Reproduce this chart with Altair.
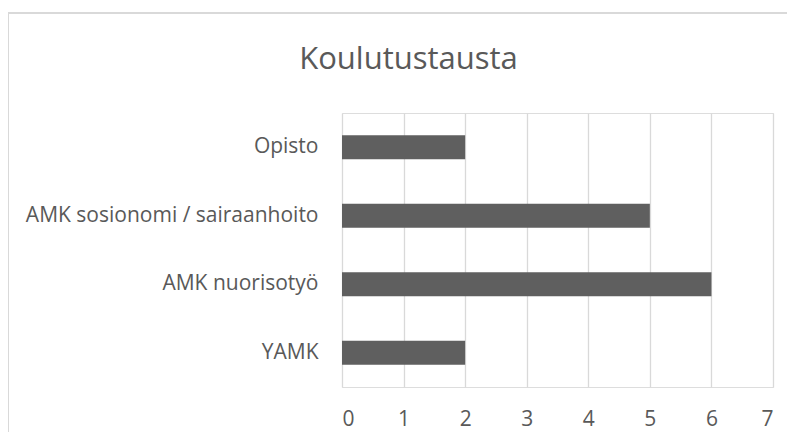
import altair as alt
import pandas as pd

categories = ["Opisto", "AMK sosionomi / sairaanhoito", "AMK nuorisotyö", "YAMK"]
values = [2, 5, 6, 2]
x_ticks = [0, 1, 2, 3, 4, 5, 6, 7]

df = pd.DataFrame({"cat": categories, "val": values})

FONT = "Open Sans"
GREY = "#595959"

bars = alt.Chart(df).mark_bar(color="#5f5f5f").encode(
    y=alt.Y(
        "cat:N",
        sort=categories,
        title=None,
        scale=alt.Scale(paddingInner=0.65, paddingOuter=0.325),
        axis=alt.Axis(
            domain=False, ticks=False, grid=False,
            labelFont=FONT, labelFontSize=21, labelColor=GREY,
            labelPadding=24, labelLimit=400,
        ),
    ),
    x=alt.X(
        "val:Q",
        title=None,
        scale=alt.Scale(domain=[0, 7], nice=False),
        axis=alt.Axis(
            values=x_ticks, domain=False, ticks=False, grid=True,
            gridColor="#d9d9d9", gridWidth=1.3,
            labelFont=FONT, labelFontSize=21, labelColor=GREY,
            labelPadding=21,
        ),
    ),
)

border_left = alt.Chart(df).mark_rule(color="#d9d9d9", strokeWidth=1.5).encode(
    x=alt.value(-334), y=alt.value(-100), y2=alt.value(330)
)
border_top = alt.Chart(df).mark_rule(color="#d9d9d9", strokeWidth=1.5).encode(
    x=alt.value(-334), x2=alt.value(460), y=alt.value(-100)
)

chart = alt.layer(border_left, border_top, bars).properties(
    width=431,
    height=274,
    title=alt.TitleParams(
        "Koulutustausta", font=FONT, fontSize=31, fontWeight="normal",
        color=GREY, anchor="middle", frame="group", dx=-149, offset=-88,
        baseline="alphabetic",
    ),
    autosize=alt.AutoSizeParams(type="none"),
    padding={"left": 334, "top": 105, "right": 14, "bottom": 45},
).configure_view(stroke=None).configure(background="white")

chart.save("out.html", embed_options={"renderer": "svg", "actions": False})
